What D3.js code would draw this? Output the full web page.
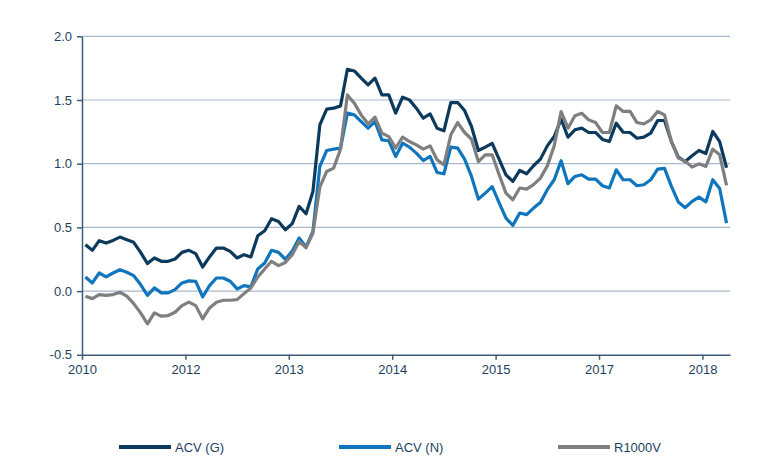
<!DOCTYPE html>
<html>
<head>
<meta charset="utf-8">
<script src="https://cdn.jsdelivr.net/npm/d3@7"></script>
<style>
  html, body { margin: 0; padding: 0; background: #ffffff; }
  svg { display: block; }
  text { font-family: "Liberation Sans", Arial, sans-serif; }
</style>
</head>
<body>
<svg id="chart" width="769" height="459"></svg>
<script>
// ---- Data ----
const seriesNames = ["ACV (G)", "ACV (N)", "R1000V"];
const acvG = [0.364,0.32,0.396,0.377,0.398,0.424,0.404,0.383,0.304,0.216,
  0.26,0.234,0.234,0.252,0.304,0.32,0.294,0.189,0.268,0.338,
  0.338,0.312,0.26,0.286,0.268,0.435,0.474,0.568,0.547,0.482,
  0.53,0.665,0.607,0.782,1.305,1.428,1.436,1.454,1.741,1.728,
  1.671,1.619,1.671,1.54,1.54,1.397,1.522,1.501,1.436,1.357,
  1.391,1.279,1.258,1.48,1.48,1.417,1.292,1.104,1.13,1.16,
  1.036,0.913,0.861,0.947,0.921,0.984,1.036,1.14,1.213,1.349,
  1.208,1.266,1.279,1.245,1.245,1.19,1.174,1.318,1.247,1.245,
  1.2,1.208,1.24,1.339,1.339,1.174,1.051,1.017,1.062,1.104,
  1.08,1.253,1.174,0.968];
const acvN = [0.111,0.064,0.142,0.111,0.142,0.168,0.148,0.121,0.051,-0.033,
  0.025,-0.014,-0.014,0.012,0.064,0.08,0.077,-0.046,0.043,0.103,
  0.103,0.077,0.017,0.043,0.033,0.174,0.221,0.32,0.304,0.25,
  0.315,0.417,0.347,0.469,0.978,1.104,1.114,1.122,1.397,1.383,
  1.331,1.279,1.331,1.187,1.18,1.057,1.161,1.13,1.083,1.025,
  1.057,0.931,0.921,1.13,1.122,1.036,0.9,0.722,0.769,0.82,
  0.695,0.573,0.516,0.613,0.6,0.652,0.696,0.796,0.874,1.023,
  0.843,0.9,0.913,0.879,0.879,0.827,0.809,0.952,0.874,0.874,
  0.827,0.835,0.874,0.957,0.963,0.822,0.7,0.655,0.704,0.738,
  0.7,0.874,0.805,0.534];
const r1000v = [-0.04,-0.059,-0.027,-0.033,-0.027,-0.009,-0.04,-0.098,-0.171,-0.257,
  -0.171,-0.197,-0.192,-0.166,-0.114,-0.087,-0.114,-0.218,-0.132,-0.087,
  -0.072,-0.072,-0.067,-0.02,0.025,0.111,0.174,0.234,0.2,0.225,
  0.286,0.39,0.339,0.456,0.816,0.939,0.965,1.114,1.54,1.475,
  1.383,1.313,1.365,1.24,1.213,1.122,1.208,1.174,1.148,1.114,
  1.14,1.031,0.991,1.227,1.323,1.245,1.192,1.017,1.07,1.07,
  0.915,0.769,0.717,0.809,0.801,0.835,0.887,0.983,1.14,1.409,
  1.279,1.376,1.396,1.344,1.323,1.245,1.245,1.454,1.41,1.41,
  1.323,1.313,1.344,1.41,1.383,1.174,1.044,1.02,0.973,0.999,
  0.978,1.114,1.07,0.83];
const xTickIndex = [0, 15, 30, 45, 60, 75, 90];
const xTickLabels = ["2010", "2012", "2013", "2014", "2015", "2017", "2018"];
const yTicks = [-0.5, 0, 0.5, 1.0, 1.5, 2.0];
const colors = ["#0c3a5c", "#0f75bc", "#7f7f7f"];

// ---- Layout ----
const svg = d3.select("#chart");
const N = acvG.length;
const plotLeft = 82, plotRight = 730, plotTop = 36.3, plotBottom = 354.8;
const x = d3.scaleLinear().domain([0, N]).range([plotLeft, plotRight]);
const y = d3.scaleLinear().domain([-0.5, 2.0]).range([plotBottom, plotTop]);
const axisColor = "#3e5c78";
const textColor = "#1d3f60";

// gridlines
svg.append("g").selectAll("line")
  .data(yTicks.filter(d => d > -0.5))
  .join("line")
  .attr("x1", plotLeft).attr("x2", plotRight)
  .attr("y1", d => y(d)).attr("y2", d => y(d))
  .attr("stroke", "#aab8cb").attr("stroke-width", 1.2);

// y axis
const yAxis = svg.append("g").attr("transform", `translate(${plotLeft},0)`)
  .call(d3.axisLeft(y).tickValues(yTicks).tickFormat(d => d.toFixed(1)).tickSize(5).tickSizeOuter(0));
yAxis.select(".domain").attr("stroke", axisColor).attr("stroke-width", 1.5);
yAxis.selectAll(".tick line").attr("stroke", axisColor).attr("stroke-width", 1.5);
yAxis.selectAll(".tick text").attr("fill", textColor).attr("font-size", 13)
  .attr("font-family", "Liberation Sans, Arial, sans-serif").attr("x", -10);

// x axis
const xAxis = svg.append("g").attr("transform", `translate(0,${plotBottom})`)
  .call(d3.axisBottom(x).tickValues(xTickIndex).tickFormat((d, i) => xTickLabels[i]).tickSize(5).tickSizeOuter(0));
xAxis.select(".domain").attr("stroke", axisColor).attr("stroke-width", 1.5);
xAxis.selectAll(".tick line").attr("stroke", axisColor).attr("stroke-width", 1.5);
xAxis.selectAll(".tick text").attr("fill", textColor).attr("font-size", 13)
  .attr("font-family", "Liberation Sans, Arial, sans-serif").attr("y", 10);

// lines
const line = d3.line().x((d, i) => x(i + 0.5)).y(d => y(d));
[acvG, acvN, r1000v].forEach((s, k) => {
  svg.append("path").datum(s)
    .attr("d", line)
    .attr("fill", "none")
    .attr("stroke", colors[k])
    .attr("stroke-width", 3.2)
    .attr("stroke-linejoin", "round");
});

// legend
const legendX = [119, 339, 558];
const legendY = 447;
seriesNames.forEach((name, k) => {
  const g = svg.append("g");
  g.append("line").attr("x1", legendX[k]).attr("x2", legendX[k] + 52)
    .attr("y1", legendY).attr("y2", legendY)
    .attr("stroke", colors[k]).attr("stroke-width", 4);
  g.append("text").attr("x", legendX[k] + 56).attr("y", legendY + 4.5)
    .attr("fill", textColor).attr("font-size", 13).text(name);
});
</script>
</body>
</html>
